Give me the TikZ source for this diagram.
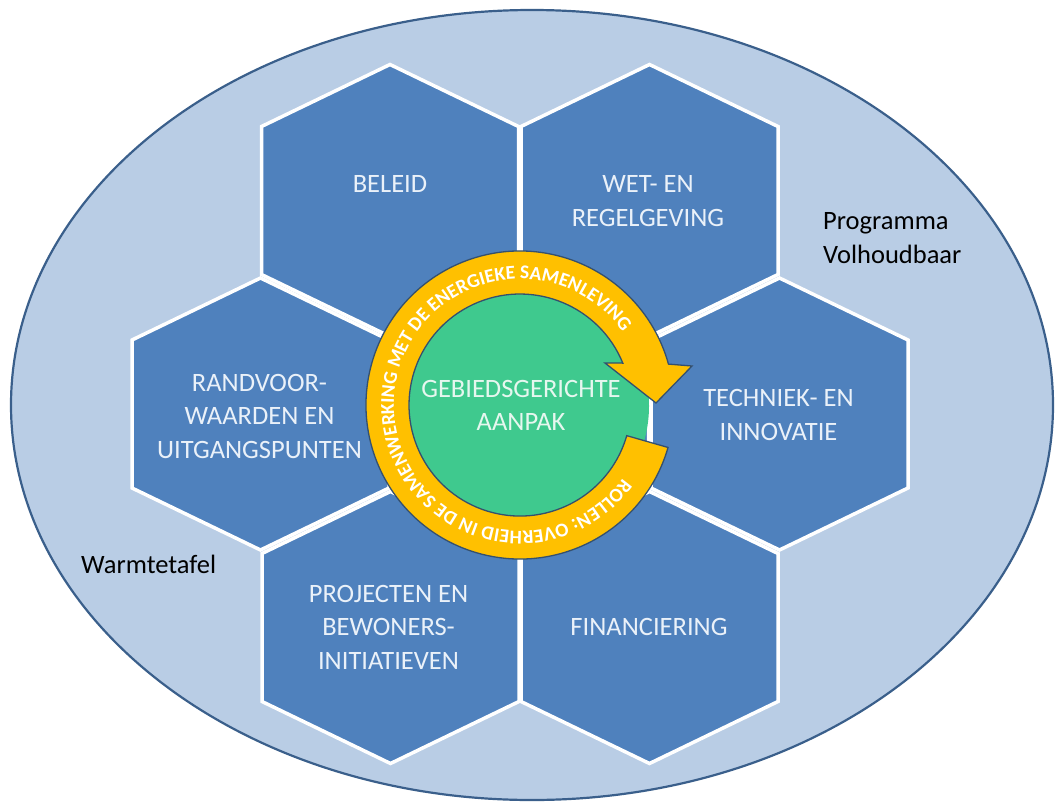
\documentclass[tikz,border=0pt]{standalone}
\usepackage{fontspec}
\setmainfont{Carlito}
\usetikzlibrary{decorations.text}
\definecolor{ellfill}{HTML}{B9CDE5}
\definecolor{elldraw}{HTML}{3A5F8B}
\definecolor{hexfill}{HTML}{4F81BD}
\definecolor{ringfill}{HTML}{FFC000}
\definecolor{ringdraw}{HTML}{34506F}
\definecolor{greenfill}{HTML}{3FC98E}
\definecolor{lighttext}{HTML}{EAF1F9}
\definecolor{greentext}{HTML}{E6F7EF}
\begin{document}
\begin{tikzpicture}[x=1pt,y=1pt,
  cell/.style={fill=hexfill, draw=white, line width=3.5pt, line join=miter},
  hextext/.style={text=lighttext, align=center, inner sep=0pt, font=\fontsize{26.5}{33.5}\selectfont},
  plain/.style={text=black, align=left, inner sep=0pt, font=\fontsize{26.5}{33.5}\selectfont},
  ringshape/.style={fill=ringfill, draw=ringdraw, line width=1.3pt, line join=miter},
]
\useasboundingbox (0,0) rectangle (1055,-803);
% outer ellipse
\draw[fill=ellfill, draw=elldraw, line width=2.2pt] (532,-405) ellipse [x radius=521, y radius=395];
% honeycomb
\foreach \cx/\cy in {390/200.5, 649.5/200.5, 260.5/414, 520/414, 779.5/414, 390.5/627.5, 649.5/627.5} {
  \path[cell] (\cx,-\cy) ++(0,136) -- ++(128.5,-62) -- ++(0,-148) -- ++(-128.5,-62) -- ++(-128.5,62) -- ++(0,148) -- cycle;
}
% hexagon labels
\node[hextext] (beleid) at (390,-184) {BELEID};
\node[hextext] (wet) at (648,-201) {WET- EN\\REGELGEVING};
\node[hextext] (rand) at (259.5,-416) {RANDVOOR-\\WAARDEN EN\\UITGANGSPUNTEN};
\node[hextext] (tech) at (778.5,-415) {TECHNIEK- EN\\INNOVATIE};
\node[hextext] (proj) at (388.5,-627) {PROJECTEN EN\\BEWONERS-\\INITIATIEVEN};
\node[hextext] (fin) at (649,-627) {FINANCIERING};
% centre
\fill[greenfill] (521,-406) circle[radius=128];
\path[ringshape] (520,-405) ++(-16:154) arc[start angle=-16, end angle=-344.6, radius=154]
  -- (692,-366) -- (656,-403) -- (605,-363) -- (622.8,-363.1)
  arc[start angle=22.2, end angle=344, radius=111] -- cycle;
\path[decorate, decoration={text along path, text align=center, text color=white,
  text={|\fontsize{19.5}{19.5}\selectfont\bfseries|ROLLEN: OVERHEID IN DE SAMENWERKING MET DE ENERGIEKE SAMENLEVING}}]
  (520,-405) ++(-24:126) arc[start angle=-24, end angle=-336, radius=126];
\node[hextext, text=greentext] (gebied) at (521,-405.5) {GEBIEDSGERICHTE\\AANPAK};
% outside labels
\node[plain, anchor=west] (prog) at (823,-238) {Programma\\Volhoudbaar};
\node[plain, anchor=base west] (warm) at (81,-573) {Warmtetafel};
\end{tikzpicture}
\end{document}
